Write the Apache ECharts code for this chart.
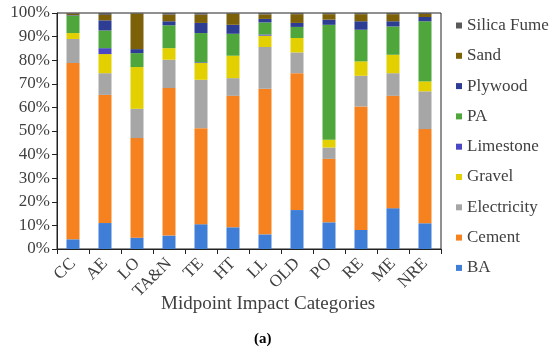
<!DOCTYPE html>
<html><head><meta charset="utf-8">
<script src="https://cdn.jsdelivr.net/npm/echarts@6/dist/echarts.min.js"></script>
<style>html,body{margin:0;padding:0;background:#fff}#c{width:550px;height:351px}</style>
</head><body><div id="c"></div>
<script>
const categories = ['CC','AE','LO','TA&N','TE','HT','LL','OLD','PO','RE','ME','NRE'];
const seriesNames = ['BA','Cement','Electricity','Gravel','Limestone','PA','Plywood','Sand','Silica Fume'];
const BA          = [4.1, 11.0, 4.8, 5.7, 10.5, 9.2, 6.2, 16.5, 11.3, 8.1, 17.3, 10.9];
const Cement      = [74.7, 54.3, 42.2, 62.5, 40.7, 55.7, 61.7, 58.0, 26.9, 52.3, 47.6, 39.9];
const Electricity = [10.2, 9.2, 12.4, 12.0, 20.5, 7.5, 17.7, 8.8, 4.8, 13.0, 9.6, 16.0];
const Gravel      = [2.5, 8.1, 17.7, 4.9, 7.1, 9.5, 4.8, 6.1, 3.3, 6.1, 7.8, 4.2];
const Limestone   = [0.0, 2.5, 0.0, 0.0, 0.3, 0.0, 0.5, 0.0, 0.0, 0.0, 0.0, 0.0];
const PA          = [7.4, 7.5, 5.9, 9.7, 12.4, 9.3, 5.1, 4.7, 48.7, 13.4, 12.0, 25.5];
const Plywood     = [0.2, 4.3, 1.7, 1.7, 4.3, 3.8, 1.5, 1.7, 2.2, 3.6, 2.2, 1.8];
const Sand        = [0.6, 2.3, 15.0, 2.8, 3.5, 4.7, 1.9, 3.7, 2.3, 3.0, 3.0, 1.3];
const SilicaFume  = [0.3, 0.8, 0.3, 0.7, 0.7, 0.3, 0.6, 0.5, 0.5, 0.5, 0.5, 0.4];
const yTicks = [0,10,20,30,40,50,60,70,80,90,100];

const values = [BA, Cement, Electricity, Gravel, Limestone, PA, Plywood, Sand, SilicaFume];
const colors = ['#3E7ED6','#F5821F','#A6A6A6','#E2D000','#4B47C4','#4FA63A','#2E3D94','#7D6108','#5A5A5A'];
const font = '"Liberation Serif","Times New Roman",serif';
const txt = '#404040';

const chart = echarts.init(document.getElementById('c'));
chart.setOption({
  animation: false,
  grid: {left: 57, right: 109, top: 13, bottom: 102, show: true, borderColor: '#222', borderWidth: 1, backgroundColor: 'transparent'},
  legend: {
    orient: 'vertical', left: 451, top: 12,
    itemWidth: 6, itemHeight: 6, itemGap: 13.3, icon: 'rect',
    data: seriesNames.slice().reverse(),
    textStyle: {fontFamily: font, fontSize: 17, color: txt, lineHeight: 17}
  },
  xAxis: {
    type: 'category', data: categories,
    axisLine: {lineStyle: {color: '#222', width: 1}},
    axisTick: {show: true, length: 5, lineStyle: {color: '#222'}},
    axisLabel: {rotate: 45, fontFamily: font, fontSize: 17, color: txt, margin: 12}
  },
  yAxis: {
    type: 'value', min: 0, max: 100, interval: 10,
    splitLine: {show: false},
    axisLine: {show: true, lineStyle: {color: '#222', width: 1}},
    axisTick: {show: true, length: 5, lineStyle: {color: '#222'}},
    axisLabel: {formatter: v => yTicks.includes(v) ? v + '%' : '', fontFamily: font, fontSize: 17, color: txt, margin: 7}
  },
  graphic: [
    {type: 'text', left: 161, top: 295, style: {text: 'Midpoint Impact Categories', font: '19px ' + font, fill: txt}},
    {type: 'text', left: 254, top: 332, style: {text: '(a)', font: 'bold 15px ' + font, fill: '#000'}}
  ],
  series: seriesNames.map((n, i) => ({
    name: n, type: 'bar', stack: 'total', barWidth: 13,
    itemStyle: {color: colors[i]},
    data: values[i]
  }))
});
</script></body></html>
